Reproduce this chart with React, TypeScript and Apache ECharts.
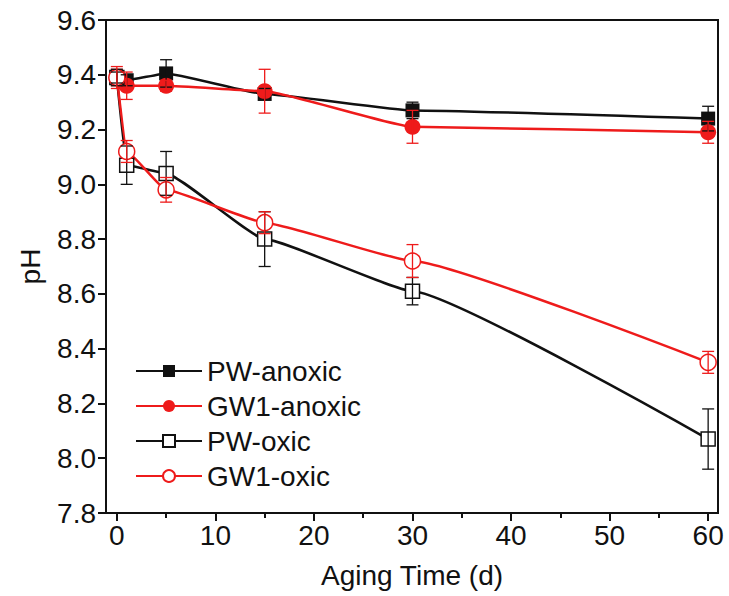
import React, { useEffect, useRef } from "react";
import * as echarts from "echarts";

const days = [0, 1, 5, 15, 30, 60];
const pwAnoxic = [9.39, 9.38, 9.405, 9.33, 9.27, 9.24];
const pwAnoxicErr = [0.02, 0.02, 0.05, 0.02, 0.03, 0.045];
const gw1Anoxic = [9.39, 9.36, 9.36, 9.34, 9.21, 9.19];
const gw1AnoxicErr = [0.03, 0.05, 0.02, 0.08, 0.06, 0.04];
const pwOxic = [9.39, 9.07, 9.04, 8.8, 8.61, 8.07];
const pwOxicErr = [0.03, 0.07, 0.08, 0.1, 0.05, 0.11];
const gw1Oxic = [9.39, 9.12, 8.98, 8.86, 8.72, 8.35];
const gw1OxicErr = [0.04, 0.04, 0.045, 0.04, 0.06, 0.04];

const xMajorTicks = [0, 10, 20, 30, 40, 50, 60];
const xMinorTicks = [5, 15, 25, 35, 45, 55];

const BLACK = "#111111";
const RED = "#ee1b1b";
const FONT = "'Liberation Sans', Arial, sans-serif";
const FS = 28;

function errData(vals: number[], errs: number[]) {
  return days.map((d, i) => [d, vals[i] - errs[i], vals[i] + errs[i]]);
}

function errSeries(vals: number[], errs: number[], color: string) {
  return {
    type: "custom",
    silent: true,
    z: 5,
    data: errData(vals, errs),
    renderItem: (params: any, api: any) => {
      const x = api.value(0);
      const lo = api.coord([x, api.value(1)]);
      const hi = api.coord([x, api.value(2)]);
      const w = 6;
      const style = { stroke: color, lineWidth: 1.3, fill: "none" };
      return {
        type: "group",
        children: [
          { type: "line", shape: { x1: hi[0], y1: hi[1], x2: lo[0], y2: lo[1] }, style },
          { type: "line", shape: { x1: hi[0] - w, y1: hi[1], x2: hi[0] + w, y2: hi[1] }, style },
          { type: "line", shape: { x1: lo[0] - w, y1: lo[1], x2: lo[0] + w, y2: lo[1] }, style },
        ],
      };
    },
  };
}

function lineSeries(
  name: string,
  vals: number[],
  color: string,
  symbol: string,
  size: number,
  filled: boolean
) {
  return {
    name,
    type: "line",
    data: days.map((d, i) => [d, vals[i]]),
    smooth: 0.12,
    smoothMonotone: "x",
    symbol,
    symbolSize: size,
    showAllSymbol: true,
    z: 3,
    lineStyle: { color, width: 2.5 },
    itemStyle: {
      color: filled ? color : "#ffffff",
      borderColor: color,
      borderWidth: filled ? 0 : 1.5,
    },
  };
}

export default function App() {
  const ref = useRef<HTMLDivElement>(null);
  useEffect(() => {
    if (!ref.current) return;
    const chart = echarts.init(ref.current, null, { renderer: "svg" });
    const axisCommon = {
      min: -1.1,
      max: 61,
      type: "value",
    };
    chart.setOption({
      animation: false,
      backgroundColor: "#ffffff",
      grid: {
        left: 106,
        right: 11,
        top: 20,
        bottom: 83,
        show: true,
        borderColor: BLACK,
        borderWidth: 2,
        backgroundColor: "transparent",
        outerBoundsMode: "none",
      },
      legend: {
        orient: "vertical",
        left: 130,
        top: 352,
        itemWidth: 66,
        itemHeight: 15,
        itemGap: 7,
        itemTextGap: 9,
        data: ["PW-anoxic", "GW1-anoxic", "PW-oxic", "GW1-oxic"],
        textStyle: { fontSize: FS, fontFamily: FONT, color: BLACK, lineHeight: 28 },
      },
      xAxis: [
        {
          ...axisCommon,
          name: "Aging Time (d)",
          nameLocation: "middle",
          nameGap: 48,
          nameTextStyle: { fontSize: FS, fontFamily: FONT, color: BLACK },
          axisLine: { onZero: false, lineStyle: { color: BLACK, width: 2 } },
          axisTick: {
            inside: false,
            length: 8,
            lineStyle: { color: BLACK, width: 2 },
            customValues: xMajorTicks,
          },
          axisLabel: {
            fontSize: FS,
            fontFamily: FONT,
            color: BLACK,
            margin: 8,
            customValues: xMajorTicks,
          },
          splitLine: { show: false },
        },
        {
          ...axisCommon,
          position: "bottom",
          axisLine: { show: false },
          axisTick: {
            inside: false,
            length: 5,
            lineStyle: { color: BLACK, width: 2 },
            customValues: xMinorTicks,
          },
          axisLabel: { show: false },
          splitLine: { show: false },
        },
      ],
      yAxis: {
        type: "value",
        min: 7.8,
        max: 9.6,
        interval: 0.2,
        name: "pH",
        nameLocation: "middle",
        nameGap: 62,
        nameTextStyle: { fontSize: FS, fontFamily: FONT, color: BLACK },
        axisLine: { onZero: false, lineStyle: { color: BLACK, width: 2 } },
        axisTick: { inside: false, length: 8, lineStyle: { color: BLACK, width: 2 } },
        axisLabel: {
          fontSize: FS,
          fontFamily: FONT,
          color: BLACK,
          margin: 10,
          formatter: (v: number) => v.toFixed(1),
        },
        splitLine: { show: false },
      },
      series: [
        lineSeries("PW-anoxic", pwAnoxic, BLACK, "rect", 14, true),
        lineSeries("GW1-anoxic", gw1Anoxic, RED, "circle", 16, true),
        lineSeries("PW-oxic", pwOxic, BLACK, "rect", 14, false),
        lineSeries("GW1-oxic", gw1Oxic, RED, "circle", 16, false),
        errSeries(pwAnoxic, pwAnoxicErr, BLACK),
        errSeries(gw1Anoxic, gw1AnoxicErr, RED),
        errSeries(pwOxic, pwOxicErr, BLACK),
        errSeries(gw1Oxic, gw1OxicErr, RED),
      ],
    });
    return () => chart.dispose();
  }, []);
  return (
    <div
      ref={ref}
      style={{ position: "absolute", left: 0, top: 0, width: 729, height: 596 }}
    />
  );
}
